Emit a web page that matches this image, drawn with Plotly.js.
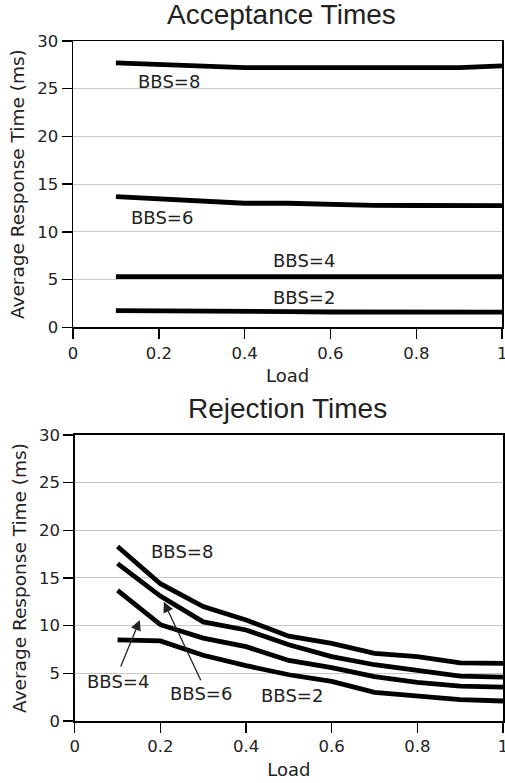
<!DOCTYPE html>
<html>
<head>
<meta charset="utf-8">
<script src="https://cdn.plot.ly/plotly-3.0.1.min.js"></script>
<style>
html,body{margin:0;padding:0;background:#fff;}
#chart{width:505px;height:783px;}
</style>
</head>
<body>
<div id="chart"></div>
<script>
// ---- data ----
const load = [0.1, 0.2, 0.3, 0.4, 0.5, 0.6, 0.7, 0.8, 0.9, 1.0];

const accBBS2 = [1.75, 1.75, 1.73, 1.70, 1.65, 1.60, 1.60, 1.60, 1.58, 1.58];
const accBBS4 = [5.30, 5.30, 5.30, 5.30, 5.30, 5.30, 5.30, 5.30, 5.30, 5.30];
const accBBS6 = [13.70, 13.45, 13.20, 13.00, 13.00, 12.85, 12.78, 12.76, 12.75, 12.75];
const accBBS8 = [27.70, 27.50, 27.40, 27.20, 27.20, 27.20, 27.20, 27.20, 27.20, 27.40];

const rejBBS2 = [8.50, 8.40, 6.90, 5.80, 4.85, 4.15, 3.00, 2.65, 2.25, 2.10];
const rejBBS4 = [13.70, 10.10, 8.70, 7.80, 6.35, 5.60, 4.65, 4.05, 3.65, 3.55];
const rejBBS6 = [16.50, 13.10, 10.40, 9.55, 8.00, 6.75, 5.90, 5.35, 4.70, 4.60];
const rejBBS8 = [18.30, 14.40, 12.00, 10.60, 8.90, 8.15, 7.10, 6.75, 6.10, 6.05];

const seriesNames = ['BBS=2', 'BBS=4', 'BBS=6', 'BBS=8'];
const panelTitles = ['Acceptance Times', 'Rejection Times'];
const xTitle = 'Load';
const yTitle = 'Average Response Time (ms)';
const xTickVals = [0, 0.2, 0.4, 0.6, 0.8, 1];
const xTickText = ['0', '0.2', '0.4', '0.6', '0.8', '1'];
const yTickVals = [0, 5, 10, 15, 20, 25, 30];
const yTickText = ['0', '5', '10', '15', '20', '25', '30'];

// ---- styles ----
const INK = '#222';
const TICKFONT = {family: 'DejaVu Sans', size: 16.5, color: INK};
const TITLEFONT = {family: 'DejaVu Sans', size: 18.5, color: INK};
const LABELFONT = {family: 'DejaVu Sans', size: 18, color: INK};
const HEADFONT = {family: 'Liberation Sans', size: 28, color: INK};

const accSeries = [accBBS2, accBBS4, accBBS6, accBBS8];
const rejSeries = [rejBBS2, rejBBS4, rejBBS6, rejBBS8];

const traces = [];
accSeries.forEach((ys, i) => traces.push({
  x: load, y: ys, name: seriesNames[i], type: 'scatter', mode: 'lines',
  xaxis: 'x', yaxis: 'y', line: {color: '#000', width: 4.8}, hoverinfo: 'skip'
}));
rejSeries.forEach((ys, i) => traces.push({
  x: load, y: ys, name: seriesNames[i], type: 'scatter', mode: 'lines',
  xaxis: 'x2', yaxis: 'y2', line: {color: '#000', width: 4.8}, hoverinfo: 'skip'
}));

function xAxis(domain, anchor) {
  return {
    domain: domain, anchor: anchor, range: [0, 1],
    tickmode: 'array', tickvals: xTickVals, ticktext: xTickText,
    ticks: 'outside', ticklen: 10, tickwidth: 1.5, tickcolor: '#000',
    ticklabeloverflow: 'allow',
    showline: true, linewidth: 1.5, linecolor: '#000', mirror: true,
    showgrid: false, zeroline: false, tickfont: TICKFONT,
    title: {text: xTitle, font: {family: 'DejaVu Sans', size: 18, color: INK}, standoff: 8}
  };
}
function yAxis(domain, anchor) {
  return {
    domain: domain, anchor: anchor, range: [0, 30],
    tickmode: 'array', tickvals: yTickVals, ticktext: yTickText,
    ticks: 'outside', ticklen: 10, tickwidth: 1.5, tickcolor: '#000',
    showline: true, linewidth: 1.5, linecolor: '#000', mirror: true,
    showgrid: true, gridcolor: '#c8c8c8', gridwidth: 1, zeroline: false,
    tickfont: TICKFONT,
    title: {text: yTitle, font: TITLEFONT, standoff: 7}
  };
}

function label(text, x, y, xref, yref) {
  return {text: text, x: x, y: y, xref: xref, yref: yref, showarrow: false,
          xanchor: 'center', yanchor: 'middle', font: LABELFONT};
}
function arrow(x, y, ax, ay) {
  return {text: '', x: x, y: y, ax: ax, ay: ay, xref: 'x2', yref: 'y2',
          axref: 'x2', ayref: 'y2', showarrow: true, arrowhead: 2,
          arrowsize: 1.6, arrowwidth: 1.3, arrowcolor: INK, standoff: 0, startstandoff: 0};
}

const annotations = [
  {text: panelTitles[0], xref: 'paper', yref: 'paper', x: 0.485, y: 1.0397,
   xanchor: 'center', yanchor: 'middle', showarrow: false, font: HEADFONT},
  {text: panelTitles[1], xref: 'paper', yref: 'paper', x: 0.499, y: 0.46,
   xanchor: 'center', yanchor: 'middle', showarrow: false, font: HEADFONT},
  label(seriesNames[3], 0.223, 25.8, 'x', 'y'),
  label(seriesNames[2], 0.208, 11.53, 'x', 'y'),
  label(seriesNames[1], 0.538, 6.97, 'x', 'y'),
  label(seriesNames[0], 0.538, 3.12, 'x', 'y'),
  label(seriesNames[3], 0.250, 17.76, 'x2', 'y2'),
  label(seriesNames[1], 0.101, 4.14, 'x2', 'y2'),
  label(seriesNames[2], 0.295, 2.88, 'x2', 'y2'),
  label(seriesNames[0], 0.507, 2.70, 'x2', 'y2'),
  arrow(0.152, 10.6, 0.106, 5.56),
  arrow(0.208, 12.5, 0.296, 4.12)
];

const layout = {
  width: 505, height: 783,
  margin: {l: 73, r: 2, t: 41, b: 62, pad: 0},
  paper_bgcolor: '#fff', plot_bgcolor: '#fff',
  showlegend: false,
  xaxis: xAxis([0, 0.998], 'y'),
  yaxis: yAxis([0.579, 1], 'x'),
  xaxis2: xAxis([0.004, 1], 'y2'),
  yaxis2: yAxis([0, 0.4206], 'x2'),
  annotations: annotations
};

Plotly.newPlot('chart', traces, layout, {displayModeBar: false, staticPlot: true});
</script>
</body>
</html>
